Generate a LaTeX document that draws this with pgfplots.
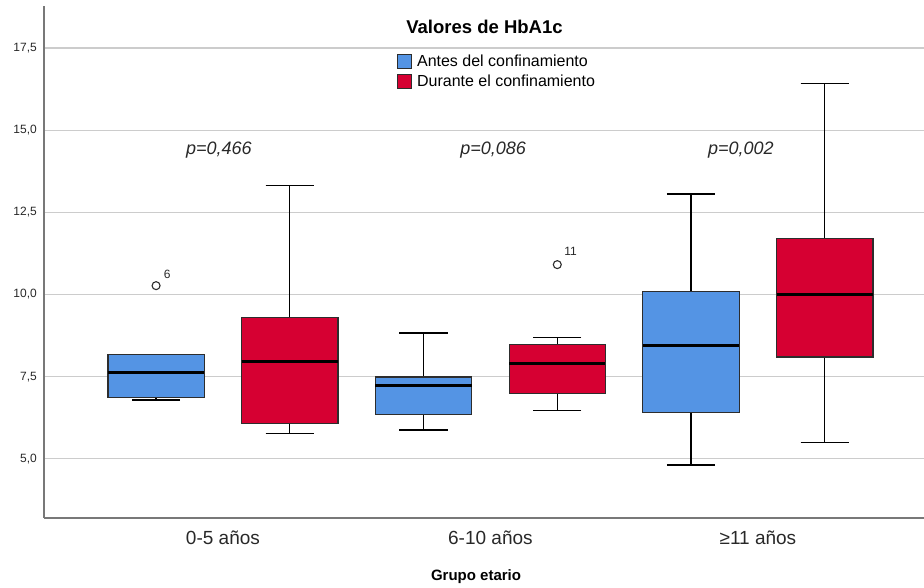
\documentclass[border=0pt]{standalone}
\usepackage{fontspec}
\setmainfont{Liberation Sans}
\usepackage{pgfplots}
\pgfplotsset{compat=1.18}
\usepgfplotslibrary{statistics}
\definecolor{bxblue}{RGB}{84,148,228}
\definecolor{bxred}{RGB}{214,0,50}
\definecolor{bxedge}{RGB}{45,45,45}
\definecolor{gridc}{RGB}{204,204,204}
\definecolor{axc}{RGB}{120,120,120}
\definecolor{txtc}{RGB}{40,40,40}
\begin{document}
\begin{tikzpicture}
\begin{axis}[
  scale only axis, width=880pt, height=512pt,
  xmin=-0.669, xmax=2.621, ymin=3.2, ymax=18.78,
  axis lines=left,
  axis line style={-, draw=axc, line width=1.3pt},
  major tick length=0pt,
  ytick={5,7.5,10,12.5,15,17.5},
  yticklabel={\pgfmathprintnumber[fixed,fixed zerofill,precision=1,use comma,assume math mode=true]{\tick}},
  yticklabel style={font=\fontsize{12}{12}\selectfont, text=txtc, inner sep=0pt, xshift=-7pt},
  xtick={0,1,2},
  xticklabels={0-5 años,6-10 años,≥11 años},
  xticklabel style={font=\fontsize{19}{19}\selectfont, text=txtc, inner sep=0pt, anchor=north, yshift=-13pt},
  ymajorgrids, grid style={gridc, line width=1.3pt},
  xlabel={Grupo etario},
  xlabel style={font=\bfseries\fontsize{15}{15}\selectfont, text=black, at={(axis description cs:0.491,-0.1152)}, anchor=center},
  boxplot/draw direction=y,
  boxplot/every whisker/.style={draw=black, line width=1.25pt},
  boxplot/every median/.style={draw=black, line width=3pt},
  boxplot/every box/.style={draw=bxedge, line width=1.2pt},
  every axis plot/.append style={line width=1.25pt},
  legend style={at={(0.401,0.908)}, anchor=north west, draw=none, fill=none, inner sep=0pt,
    font=\fontsize{16}{16}\selectfont, row sep=3pt,
    /tikz/every odd column/.append style={column sep=3pt}},
  legend cell align=left,
]
% 0-5 anos
\addplot+[forget plot, boxplot prepared={draw position=-0.25, lower whisker=6.79, lower quartile=6.86, median=7.63, upper quartile=8.17, upper whisker=8.17, box extend=0.36, whisker extend=0.18},
  draw=bxedge, fill=bxblue, mark=o, mark size=4pt, mark options={draw=bxedge, fill=white, line width=1.1pt}]
  coordinates {(0,10.27)};
\addplot+[forget plot, boxplot prepared={draw position=0.25, lower whisker=5.78, lower quartile=6.08, median=7.95, upper quartile=9.30, upper whisker=13.32, box extend=0.36, whisker extend=0.18},
  draw=bxedge, fill=bxred, mark=none]
  coordinates {};
% 6-10 anos
\addplot+[forget plot, boxplot prepared={draw position=0.75, lower whisker=5.88, lower quartile=6.34, median=7.23, upper quartile=7.49, upper whisker=8.83, box extend=0.36, whisker extend=0.18},
  draw=bxedge, fill=bxblue, mark=none]
  coordinates {};
\addplot+[forget plot, boxplot prepared={draw position=1.25, lower whisker=6.48, lower quartile=6.98, median=7.89, upper quartile=8.49, upper whisker=8.70, box extend=0.36, whisker extend=0.18},
  draw=bxedge, fill=bxred, mark=o, mark size=4pt, mark options={draw=bxedge, fill=white, line width=1.1pt}]
  coordinates {(0,10.91)};
% >=11 anos
\addplot+[forget plot, boxplot prepared={draw position=1.75, lower whisker=4.81, lower quartile=6.42, median=8.45, upper quartile=10.10, upper whisker=13.06, box extend=0.36, whisker extend=0.18},
  draw=bxedge, fill=bxblue, mark=none]
  coordinates {};
\addplot+[forget plot, boxplot prepared={draw position=2.25, lower whisker=5.49, lower quartile=8.10, median=10.00, upper quartile=11.71, upper whisker=16.43, box extend=0.36, whisker extend=0.18},
  draw=bxedge, fill=bxred, mark=none]
  coordinates {};
% legend
\addlegendimage{legend image code/.code={\draw[fill=bxblue,draw=bxedge,line width=1pt] (0pt,-7pt) rectangle (14pt,7pt);}}
\addlegendentry{Antes del confinamiento}
\addlegendimage{legend image code/.code={\draw[fill=bxred,draw=bxedge,line width=1pt] (0pt,-7pt) rectangle (14pt,7pt);}}
\addlegendentry{Durante el confinamiento}
% annotations
\node[font=\itshape\fontsize{18}{18}\selectfont, text=txtc] at (axis cs:-0.015,14.39) {p=0,466};
\node[font=\itshape\fontsize{18}{18}\selectfont, text=txtc] at (axis cs:1.01,14.39) {p=0,086};
\node[font=\itshape\fontsize{18}{18}\selectfont, text=txtc] at (axis cs:1.936,14.39) {p=0,002};
\node[font=\fontsize{12}{12}\selectfont, text=txtc] at (axis cs:-0.208,10.6) {6};
\node[font=\fontsize{12}{12}\selectfont, text=txtc] at (axis cs:1.30,11.32) {11};
\node[font=\bfseries\fontsize{18.5}{18.5}\selectfont, text=black] at (axis description cs:0.5006,0.959) {Valores de HbA1c};
\end{axis}
\pgfresetboundingbox
\path[use as bounding box] (current axis.south west) ++(-44pt,-70pt) rectangle ++(924pt,588pt);
\end{tikzpicture}
\end{document}
